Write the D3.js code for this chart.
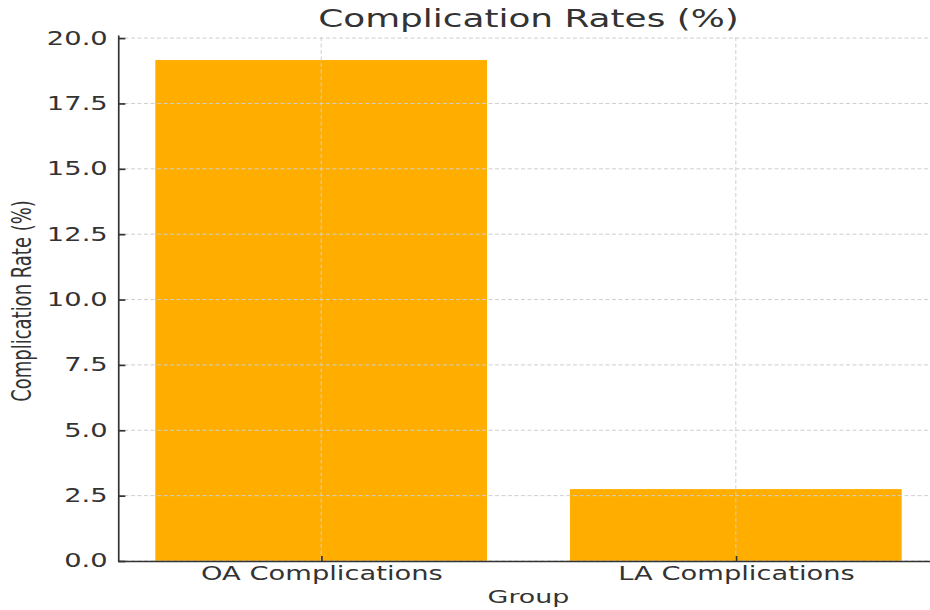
<!DOCTYPE html>
<html>
<head>
<meta charset="utf-8">
<script src="https://cdn.jsdelivr.net/npm/d3@7"></script>
<style>
  body { margin: 0; background: #fff; }
  svg { display: block; }
  text { font-family: "DejaVu Sans", sans-serif; fill: #333; }
</style>
</head>
<body>
<svg id="chart"></svg>
<script>
// chart data
const categories = ["OA Complications", "LA Complications"];
const rates = [19.16, 2.75];
const yTicks = [0, 2.5, 5, 7.5, 10, 12.5, 15, 17.5, 20];

document.addEventListener('DOMContentLoaded', function () {
    // the picture is stretched sideways, so draw in a narrower box and let it stretch
    var stretch = 1.47;
    var W = 930, H = 610;
    var vw = W / stretch;

    var left = 118 / stretch, right = 939 / stretch;
    var top = 35, bottom = 561;

    const svg = d3.select('#chart')
        .attr("width", W)
        .attr("height", H)
        .attr("viewBox", `0 0 ${vw} ${H}`)
        .attr("preserveAspectRatio", "none");

    const x = d3.scaleLinear()
        .domain([-0.49, 1.49])
        .range([left, right]);

    const y = d3.scaleLinear()
        .domain([0, d3.max(rates) * 1.05])
        .range([bottom, top]);

    var barW = 0.8;

    // bars
    svg.selectAll("rect.bar")
        .data(rates)
        .enter().append("rect")
        .attr("class", "bar")
        .attr("x", (d, i) => x(i - barW / 2))
        .attr("width", (d, i) => x(i + barW / 2) - x(i - barW / 2))
        .attr("y", d => y(d))
        .attr("height", d => y(0) - y(d))
        .attr("fill", "#FFAE00");

    // grid lines, drawn over the bars
    svg.append("g").selectAll("line")
        .data(yTicks)
        .enter().append("line")
        .attr("x1", left).attr("x2", right)
        .attr("y1", d => y(d)).attr("y2", d => y(d))
        .attr("stroke", "#cfcfcf")
        .attr("stroke-width", 1)
        .attr("stroke-dasharray", "4,2.5")
        .attr("vector-effect", "non-scaling-stroke");

    svg.append("g").selectAll("line")
        .data(categories)
        .enter().append("line")
        .attr("x1", (d, i) => x(i)).attr("x2", (d, i) => x(i))
        .attr("y1", bottom).attr("y2", top)
        .attr("stroke", "#cfcfcf")
        .attr("stroke-width", 1)
        .attr("stroke-dasharray", "4,2.5")
        .attr("vector-effect", "non-scaling-stroke");

    // Y axis
    const yAxis = svg.append("g")
        .attr("transform", `translate(${left},0)`)
        .call(d3.axisLeft(y)
            .tickValues(yTicks)
            .tickFormat(d3.format(".1f"))
            .tickSizeInner(-5)
            .tickSizeOuter(0)
            .tickPadding(7));

    // X axis
    const xAxis = svg.append("g")
        .attr("transform", `translate(0,${bottom})`)
        .call(d3.axisBottom(x)
            .tickValues(d3.range(categories.length))
            .tickFormat(i => categories[i])
            .tickSizeInner(-5)
            .tickSizeOuter(0)
            .tickPadding(6));

    [yAxis, xAxis].forEach(function (g) {
        g.selectAll("path, line")
            .attr("stroke", "#333")
            .attr("stroke-width", 1.7)
            .attr("vector-effect", "non-scaling-stroke");
        g.selectAll("text")
            .attr("font-size", 18.6)
            .attr("fill", "#333");
    });

    var midX = (left + right) / 2;

    // title
    svg.append("text")
        .attr("text-anchor", "middle")
        .attr("x", midX)
        .attr("y", 27)
        .attr("font-size", 24.4)
        .text("Complication Rates (%)");

    // X axis label
    svg.append("text")
        .attr("text-anchor", "middle")
        .attr("x", midX)
        .attr("y", 603)
        .attr("font-size", 18.3)
        .text("Group");

    // Y axis label
    svg.append("text")
        .attr("text-anchor", "middle")
        .attr("transform", `translate(${31 / stretch},${(top + bottom) / 2 + 3}) rotate(-90)`)
        .attr("font-size", 18)
        .text("Complication Rate (%)");
});
</script>
</body>
</html>
